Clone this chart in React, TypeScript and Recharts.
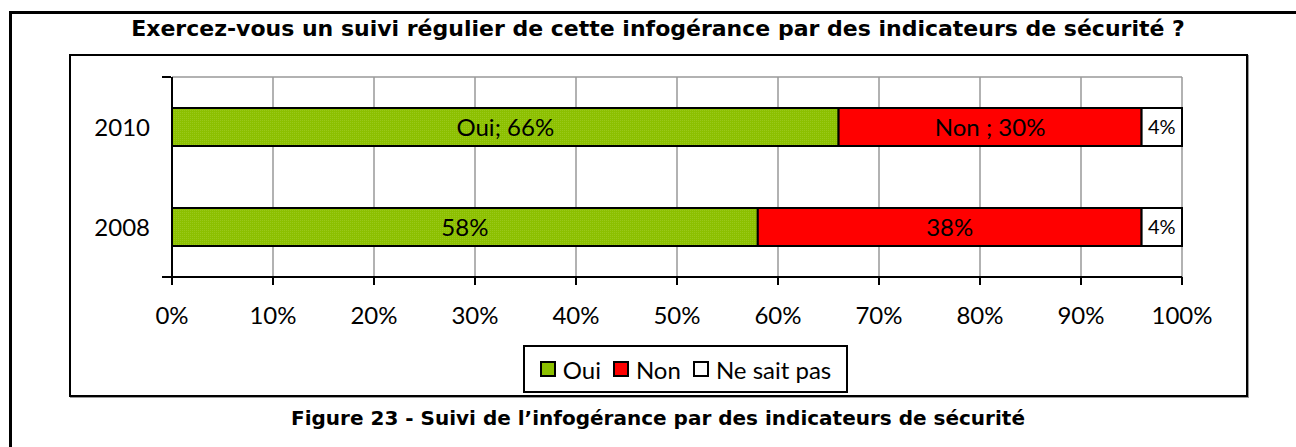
import { Bar, BarChart, CartesianGrid, LabelList, XAxis, YAxis } from 'recharts';

const years = ['2010', '2008'];
const oui = [66, 58];
const non = [30, 38];
const nsp = [4, 4];
const ouiPrefix = ['Oui; ', ''];
const nonPrefix = ['Non ; ', ''];
const pctTicks = [0, 10, 20, 30, 40, 50, 60, 70, 80, 90, 100];
const seriesNames = ['Oui', 'Non', 'Ne sait pas'];
const seriesColors = ['#8CC000', '#FF0000', '#FFFFFF'];

const TITLE = 'Exercez-vous un suivi régulier de cette infogérance par des indicateurs de sécurité ?';
const CAPTION = 'Figure 23 - Suivi de l’infogérance par des indicateurs de sécurité';

const data = years.map((y, i) => ({
  year: y,
  oui: oui[i],
  non: non[i],
  nsp: nsp[i],
  ouiLabel: `${ouiPrefix[i]}${oui[i]}%`,
  nonLabel: `${nonPrefix[i]}${non[i]}%`,
  nspLabel: `${nsp[i]}%`,
}));

const labelFont = 'Lato, "Open Sans", sans-serif';
const boldFont = '"DejaVu Sans", Verdana, sans-serif';

export default function App() {
  return (
    <div
      style={{
        position: 'absolute',
        left: 0,
        top: 0,
        width: 1296,
        height: 447,
        overflow: 'hidden',
        background: '#fff',
        fontFamily: labelFont,
      }}
    >
      {/* outer frame, open on the right and bottom */}
      <div
        style={{
          position: 'absolute',
          left: 9,
          top: 11,
          width: 1300,
          height: 460,
          borderTop: '3px solid #000',
          borderLeft: '3px solid #000',
        }}
      />
      <div
        style={{
          position: 'absolute',
          left: 20,
          top: 15,
          width: 1276,
          textAlign: 'center',
          fontFamily: boldFont,
          fontWeight: 'bold',
          fontSize: 22,
          lineHeight: '28px',
          color: '#000',
        }}
      >
        {TITLE}
      </div>
      {/* chart frame */}
      <div
        style={{
          position: 'absolute',
          left: 69,
          top: 54,
          width: 1175,
          height: 339,
          border: '2px solid #000',
          boxShadow: '1px 1px 0 #999',
        }}
      />
      <BarChart
        width={1296}
        height={447}
        layout="vertical"
        data={data}
        margin={{ top: 77, right: 114, left: 170, bottom: 130 }}
        style={{ position: 'absolute', left: 0, top: 0 }}
      >
        <defs>
          <pattern id="ouiDots" width="2" height="2" patternUnits="userSpaceOnUse">
            <rect width="2" height="2" fill="#8CC000" />
            <rect width="1" height="1" fill="#99C81A" />
          </pattern>
        </defs>
        <CartesianGrid
          stroke="#999"
          strokeWidth={1.5}
          horizontalCoordinatesGenerator={({ offset }: { offset: { top: number } }) => [offset.top]}
        />
        <XAxis
          type="number"
          domain={[0, 100]}
          ticks={pctTicks}
          tickFormatter={(v: number) => `${v}%`}
          axisLine={{ stroke: '#000', strokeWidth: 2 }}
          tickLine={{ stroke: '#000', strokeWidth: 2 }}
          tickSize={8}
          tickMargin={22}
          height={40}
          tick={{ fill: '#000', fontSize: 24, fontFamily: labelFont }}
        />
        <YAxis
          yAxisId="frame"
          type="number"
          domain={[0, 2]}
          ticks={[0, 1, 2]}
          width={1}
          tickFormatter={() => ''}
          tickSize={9}
          tickLine={{ stroke: '#000', strokeWidth: 2 }}
          axisLine={false}
        />
        <YAxis
          type="category"
          dataKey="year"
          width={1}
          axisLine={{ stroke: '#000', strokeWidth: 2 }}
          tickLine={false}
          tickSize={0}
          tickMargin={22}
          tick={{ fill: '#000', fontSize: 24, fontFamily: labelFont }}
        />
        <Bar dataKey="oui" stackId="a" barSize={38} fill="url(#ouiDots)" stroke="#000" strokeWidth={2} isAnimationActive={false}>
          <LabelList dataKey="ouiLabel" position="center" fill="#000" fontSize={24} fontFamily={labelFont} />
        </Bar>
        <Bar dataKey="non" stackId="a" barSize={38} fill={seriesColors[1]} stroke="#000" strokeWidth={2} isAnimationActive={false}>
          <LabelList dataKey="nonLabel" position="center" fill="#000" fontSize={24} fontFamily={labelFont} />
        </Bar>
        <Bar dataKey="nsp" stackId="a" barSize={38} fill={seriesColors[2]} stroke="#000" strokeWidth={2} isAnimationActive={false}>
          <LabelList dataKey="nspLabel" position="center" fill="#000" fontSize={20} fontFamily={labelFont} />
        </Bar>
      </BarChart>
      {/* legend */}
      <div
        style={{
          position: 'absolute',
          left: 523,
          top: 345,
          width: 321,
          height: 44,
          border: '2px solid #000',
          display: 'flex',
          alignItems: 'center',
          justifyContent: 'center',
          gap: 12,
          fontSize: 24,
          color: '#000',
        }}
      >
        {seriesNames.map((name, i) => (
          <span key={name} style={{ display: 'flex', alignItems: 'center', gap: 7 }}>
            <span
              style={{
                display: 'inline-block',
                width: 12,
                height: 12,
                border: '2px solid #000',
                background: seriesColors[i],
              }}
            />
            {name}
          </span>
        ))}
      </div>
      <div
        style={{
          position: 'absolute',
          left: 20,
          top: 405,
          width: 1276,
          textAlign: 'center',
          fontFamily: boldFont,
          fontWeight: 'bold',
          fontSize: 20,
          lineHeight: '26px',
          color: '#000',
        }}
      >
        {CAPTION}
      </div>
    </div>
  );
}
